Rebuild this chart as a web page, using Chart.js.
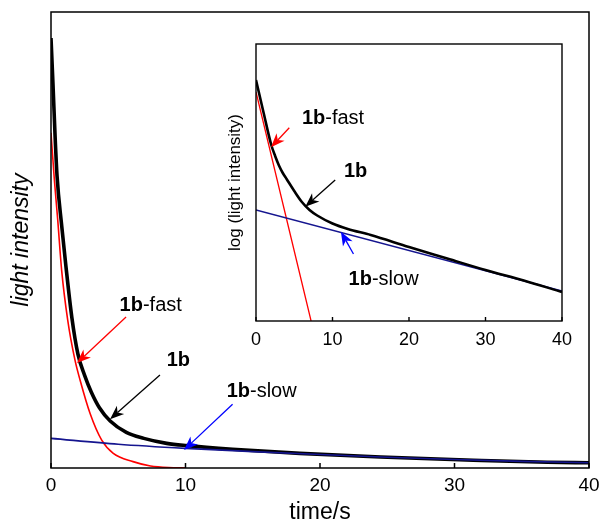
<!DOCTYPE html>
<html>
<head>
<meta charset="utf-8">
<script src="https://cdn.jsdelivr.net/npm/chart.js@4.4.1/dist/chart.umd.min.js"></script>
<style>
html, body { margin: 0; padding: 0; background: #fff; }
#wrap { position: relative; width: 602px; height: 522px; }
#main { position: absolute; left: 0; top: 0; }
#inset { position: absolute; left: 214px; top: 34px; }
</style>
</head>
<body>
<div id="wrap">
  <canvas id="main" width="602" height="522"></canvas>
  <canvas id="inset" width="362" height="330"></canvas>
</div>
<script>
// main panel: light intensity (arb. units) vs time/s
const mainTime  = [0, 0.15, 0.3, 0.45, 0.8, 1.1, 1.55, 2.0, 2.5, 3.0, 3.6, 4.4, 5.6, 6.9, 8.6, 10.1, 13.5, 18.5, 24.5, 31.4, 36.9, 40];
const mainTotal = [94.3, 84, 73, 64, 53, 44.5, 33, 25, 20.3, 16.6, 13.2, 10.3, 7.8, 6.5, 5.4, 4.9, 4.1, 3.2, 2.4, 1.7, 1.25, 1.15];
const fastTime  = [0, 0.25, 0.5, 0.79, 1.24, 1.78, 2.16, 2.9, 3.77, 4.63, 6.1, 7.4, 9.1, 10];
const fastVals  = [73.5, 63.2, 54.4, 43.4, 32.5, 23.7, 19.3, 12.0, 6.1, 3.2, 1.4, 0.44, 0.07, 0];
const slowTime  = [0, 5, 10, 15, 20, 25, 30, 35, 40];
const slowVals  = [6.5, 5.2, 4.3, 3.6, 2.95, 2.35, 1.85, 1.45, 1.15];

// inset: log (light intensity), arbitrary log units
const insetTime  = [0, 1, 2, 2.5, 3, 3.5, 4, 5, 6, 7, 8, 10, 12, 15, 20, 25, 30, 35, 40];
const insetTotal = [241, 208, 176, 165, 155.5, 148, 142, 130, 119, 111, 105.5, 97.5, 92, 86, 74, 62.5, 51, 40.5, 29];
const insetFastT = [0, 7.2];
const insetFastV = [229, 0];
const insetSlowT = [0, 40];
const insetSlowV = [111, 30];

const xTicks = [0, 10, 20, 30, 40];

// annotations: [label, textX, textY, arrowFromX, arrowFromY, arrowToX, arrowToY, colour] in data units
const mainNotes = [
  ['-fast', 5.1, 35.7, 5.58, 33.1, 1.93, 23.0, '#ff0000'],
  ['', 8.6, 23.5, 8.1, 20.4, 4.39, 10.7, '#000000'],
  ['-slow', 13.06, 16.7, 13.5, 14.0, 9.89, 3.95, '#0000ff']
];
const insetNotes = [
  ['-fast', 6.0, 202.7, 4.35, 193.3, 1.96, 173.7, '#ff0000'],
  ['', 11.5, 149.3, 10.35, 141, 6.44, 114.3, '#000000'],
  ['-slow', 12.1, 42, 12.74, 67, 11.1, 89.3, '#0000ff']
];

const FONT = '"Liberation Sans", Arial, Helvetica, sans-serif';
const NAVY = '#15158f';
const pts = (xs, ys) => xs.map((x, i) => ({x: x, y: ys[i]}));

const framePlugin = {
  id: 'frame',
  afterDatasetsDraw(chart, args, opts) {
    const {ctx, chartArea: a} = chart;
    const x = chart.scales.x;
    ctx.save();
    ctx.strokeStyle = '#000';
    ctx.lineWidth = opts.lineWidth;
    ctx.strokeRect(a.left, a.top, a.right - a.left, a.bottom - a.top);
    ctx.beginPath();
    xTicks.forEach(v => {
      const px = x.getPixelForValue(v);
      ctx.moveTo(px, a.bottom);
      ctx.lineTo(px, a.bottom - opts.tick);
    });
    ctx.stroke();
    ctx.restore();
  }
};

function drawArrow(ctx, x0, y0, x1, y1, color) {
  const ang = Math.atan2(y1 - y0, x1 - x0);
  const c = Math.cos(ang), s = Math.sin(ang);
  const L = 14, W = 5.5, N = 10;
  const bx = x1 - N * c, by = y1 - N * s;
  ctx.strokeStyle = color;
  ctx.fillStyle = color;
  ctx.lineWidth = 1.3;
  ctx.beginPath();
  ctx.moveTo(x0, y0);
  ctx.lineTo(bx, by);
  ctx.stroke();
  ctx.beginPath();
  ctx.moveTo(x1, y1);
  ctx.lineTo(x1 - L * c + W * s, y1 - L * s - W * c);
  ctx.lineTo(bx, by);
  ctx.lineTo(x1 - L * c - W * s, y1 - L * s + W * c);
  ctx.closePath();
  ctx.fill();
}

const notesPlugin = {
  id: 'notes',
  afterDraw(chart, args, opts) {
    const {ctx} = chart;
    const x = chart.scales.x, y = chart.scales.y;
    ctx.save();
    opts.items.forEach(n => {
      const [rest, tx, ty, fx, fy, ax, ay, col] = n;
      const px = x.getPixelForValue(tx), py = y.getPixelForValue(ty);
      ctx.textBaseline = 'middle';
      ctx.textAlign = 'left';
      ctx.fillStyle = '#000';
      ctx.font = 'bold ' + opts.size + 'px ' + FONT;
      ctx.fillText('1b', px, py);
      const w = ctx.measureText('1b').width;
      ctx.font = opts.size + 'px ' + FONT;
      ctx.fillText(rest, px + w, py);
      drawArrow(ctx, x.getPixelForValue(fx), y.getPixelForValue(fy),
                x.getPixelForValue(ax), y.getPixelForValue(ay), col);
    });
    ctx.restore();
  }
};

new Chart(document.getElementById('main'), {
  type: 'line',
  data: {
    datasets: [
      {data: pts(slowTime, slowVals), borderColor: NAVY, borderWidth: 1.6},
      {data: pts(mainTime, mainTotal), borderColor: '#000', borderWidth: 3.6},
      {data: pts(fastTime, fastVals), borderColor: '#ff0000', borderWidth: 1.6}
    ]
  },
  options: {
    responsive: false, animation: false, devicePixelRatio: 1,
    layout: {padding: {top: 12, right: 13, left: 0, bottom: 0}},
    elements: {point: {radius: 0}, line: {cubicInterpolationMode: 'monotone'}},
    plugins: {
      legend: {display: false}, tooltip: {enabled: false},
      frame: {lineWidth: 1.5, tick: 5},
      notes: {items: mainNotes, size: 20}
    },
    scales: {
      x: {
        type: 'linear', min: 0, max: 40,
        afterBuildTicks: s => { s.ticks = xTicks.map(v => ({value: v})); },
        ticks: {color: '#000', font: {family: FONT, size: 19}, padding: 6},
        grid: {display: false, drawTicks: false}, border: {display: false},
        title: {display: true, text: 'time/s', color: '#000', font: {family: FONT, size: 23}, padding: {top: 0, bottom: -4}},
        afterFit: s => { s.height = 54; s.paddingLeft = 0; s.paddingRight = 0; }
      },
      y: {
        min: 0, max: 100,
        ticks: {display: false},
        grid: {display: false, drawTicks: false}, border: {display: false},
        title: {display: true, text: 'light intensity', color: '#000', font: {family: FONT, size: 23, style: 'italic'}, padding: {top: 8}},
        afterFit: s => { s.width = 51; }
      }
    }
  },
  plugins: [framePlugin, notesPlugin]
});

new Chart(document.getElementById('inset'), {
  type: 'line',
  data: {
    datasets: [
      {data: pts(insetTime, insetTotal), borderColor: '#000', borderWidth: 2.6},
      {data: pts(insetSlowT, insetSlowV), borderColor: NAVY, borderWidth: 1.3},
      {data: pts(insetFastT, insetFastV), borderColor: '#ff0000', borderWidth: 1.3}
    ]
  },
  options: {
    responsive: false, animation: false, devicePixelRatio: 1,
    layout: {padding: {top: 10, right: 14, left: 0, bottom: 0}},
    elements: {point: {radius: 0}, line: {cubicInterpolationMode: 'monotone'}},
    plugins: {
      legend: {display: false}, tooltip: {enabled: false},
      frame: {lineWidth: 1.4, tick: 4},
      notes: {items: insetNotes, size: 20}
    },
    scales: {
      x: {
        type: 'linear', min: 0, max: 40,
        afterBuildTicks: s => { s.ticks = xTicks.map(v => ({value: v})); },
        ticks: {color: '#000', font: {family: FONT, size: 18}, padding: 8},
        grid: {display: false, drawTicks: false}, border: {display: false},
        afterFit: s => { s.height = 43; s.paddingLeft = 0; s.paddingRight = 0; }
      },
      y: {
        min: 0, max: 277,
        ticks: {display: false},
        grid: {display: false, drawTicks: false}, border: {display: false},
        title: {display: true, text: 'log (light intensity)', color: '#000', font: {family: FONT, size: 17}, padding: {top: 11}},
        afterFit: s => { s.width = 42; }
      }
    }
  },
  plugins: [framePlugin, notesPlugin]
});
</script>
</body>
</html>
